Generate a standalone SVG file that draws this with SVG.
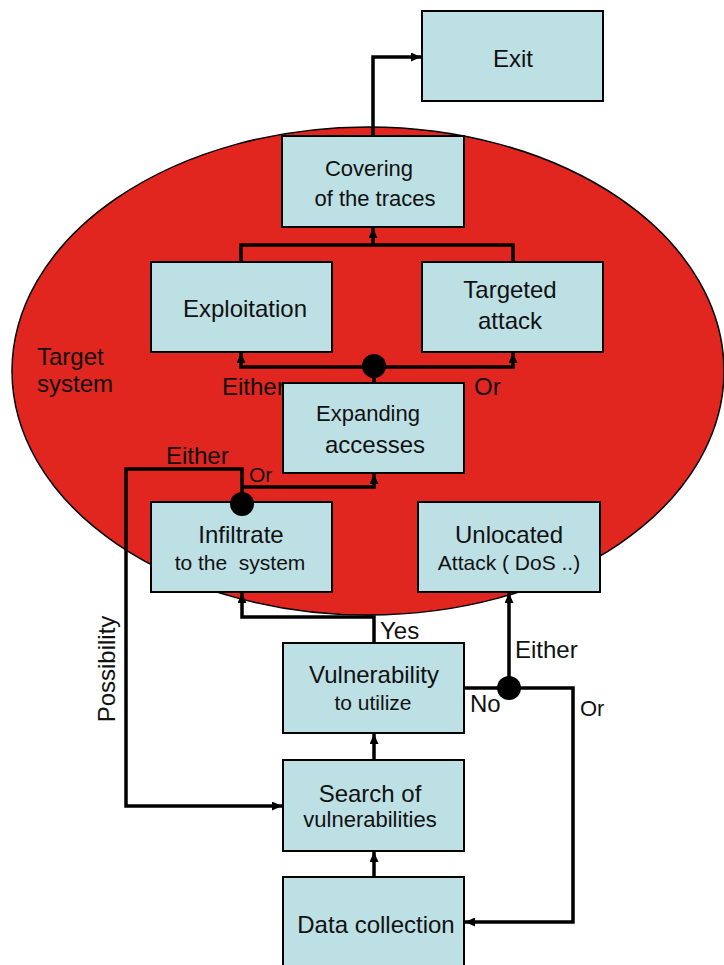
<svg xmlns="http://www.w3.org/2000/svg" width="724" height="965" viewBox="0 0 724 965">
  <style>
    .box { fill: #BDE0E4; stroke: #000; stroke-width: 2; }
    .lbl { font-family: "Liberation Sans", Arial, sans-serif; fill: #111; white-space: pre; }
    .c { text-anchor: middle; }
    .wire { fill: none; stroke: #000; stroke-width: 3.5; stroke-linejoin: miter; }
    .dot { fill: #000; }
  </style>
  <defs>
    <marker id="arrow" markerUnits="userSpaceOnUse" markerWidth="10" markerHeight="9" refX="10" refY="4.5" orient="auto">
      <path d="M0,0 L10,4.5 L0,9 z" fill="#000"/>
    </marker>
  </defs>

  <rect width="724" height="965" fill="#fff"/>

  <!-- target system region -->
  <g id="target-system">
    <ellipse cx="368" cy="371" rx="356" ry="244" fill="#E1251F" stroke="#000" stroke-width="1.5"/>
    <text class="lbl" x="37" y="365" font-size="24">Target</text>
    <text class="lbl" x="37" y="392" font-size="24">system</text>
  </g>

  <!-- branch labels (drawn beneath the boxes) -->
  <g id="labels">
    <text class="lbl" x="222" y="395" font-size="24">Either</text>
    <text class="lbl" x="474" y="395" font-size="24">Or</text>
    <text class="lbl" x="166" y="464" font-size="24">Either</text>
    <text class="lbl" x="249" y="482" font-size="21">Or</text>
    <text class="lbl" x="380" y="639" font-size="24">Yes</text>
    <text class="lbl" x="515" y="658" font-size="24">Either</text>
    <text class="lbl" x="470" y="712" font-size="24">No</text>
    <text class="lbl" x="580" y="716" font-size="22">Or</text>
    <text class="lbl c" transform="translate(115,669) rotate(-90)" font-size="24">Possibility</text>
  </g>

  <g id="exit">
    <rect class="box" x="422" y="11" width="181" height="90"/>
    <text class="lbl c" x="513" y="67" font-size="24">Exit</text>
  </g>

  <g id="covering">
    <rect class="box" x="282" y="136" width="182" height="91"/>
    <text class="lbl c" x="369" y="176" font-size="22">Covering</text>
    <text class="lbl c" x="375" y="206" font-size="22">of the traces</text>
  </g>

  <g id="exploitation">
    <rect class="box" x="151" y="262" width="181" height="90"/>
    <text class="lbl c" x="245" y="317" font-size="24">Exploitation</text>
  </g>

  <g id="targeted-attack">
    <rect class="box" x="422" y="262" width="181" height="90"/>
    <text class="lbl c" x="510" y="298" font-size="24">Targeted</text>
    <text class="lbl c" x="510" y="329" font-size="24">attack</text>
  </g>

  <g id="expanding">
    <rect class="box" x="283" y="383" width="181" height="90"/>
    <text class="lbl c" x="368" y="421" font-size="22">Expanding</text>
    <text class="lbl c" x="375" y="453" font-size="24">accesses</text>
  </g>

  <g id="infiltrate">
    <rect class="box" x="151" y="502" width="181" height="90"/>
    <text class="lbl c" x="241" y="543" font-size="24">Infiltrate</text>
    <text class="lbl c" x="240" y="570" font-size="21">to the  system</text>
  </g>

  <g id="unlocated">
    <rect class="box" x="418" y="502" width="182" height="90"/>
    <text class="lbl c" x="509" y="543" font-size="24">Unlocated</text>
    <text class="lbl c" x="509" y="570" font-size="21">Attack ( DoS ..)</text>
  </g>

  <g id="vulnerability">
    <rect class="box" x="283" y="643" width="181" height="90"/>
    <text class="lbl c" x="374" y="683" font-size="24">Vulnerability</text>
    <text class="lbl c" x="373" y="710" font-size="21">to utilize</text>
  </g>

  <g id="search">
    <rect class="box" x="283" y="760" width="181" height="91"/>
    <text class="lbl c" x="370" y="802" font-size="24">Search of</text>
    <text class="lbl c" x="370" y="827" font-size="22">vulnerabilities</text>
  </g>

  <g id="data-collection">
    <rect class="box" x="283" y="877" width="181" height="92"/>
    <text class="lbl c" x="376" y="933" font-size="24">Data collection</text>
  </g>

  <!-- connectors -->
  <g id="connectors">
    <path class="wire" d="M373,136 V57 H421" marker-end="url(#arrow)"/>
    <path class="wire" d="M241,262 V245 H513 V262"/>
    <path class="wire" d="M373,245 V228" marker-end="url(#arrow)"/>
    <path class="wire" d="M374,383 V367"/>
    <path class="wire" d="M374,367 H241 V353" marker-end="url(#arrow)"/>
    <path class="wire" d="M374,367 H513 V353" marker-end="url(#arrow)"/>
    <circle class="dot" cx="374" cy="366" r="12"/>

    <path class="wire" d="M242,504 V469 H126 V806 H282" marker-end="url(#arrow)"/>
    <path class="wire" d="M242,487 H374 V474" marker-end="url(#arrow)"/>
    <circle class="dot" cx="242" cy="504" r="12"/>

    <path class="wire" d="M374,643 V617 H242 V593" marker-end="url(#arrow)"/>
    <path class="wire" d="M464,688 H573 V922 H465" marker-end="url(#arrow)"/>
    <path class="wire" d="M509,688 V593" marker-end="url(#arrow)"/>
    <circle class="dot" cx="509" cy="688" r="12"/>

    <path class="wire" d="M374,760 V734" marker-end="url(#arrow)"/>
    <path class="wire" d="M374,877 V852" marker-end="url(#arrow)"/>
  </g>
</svg>
